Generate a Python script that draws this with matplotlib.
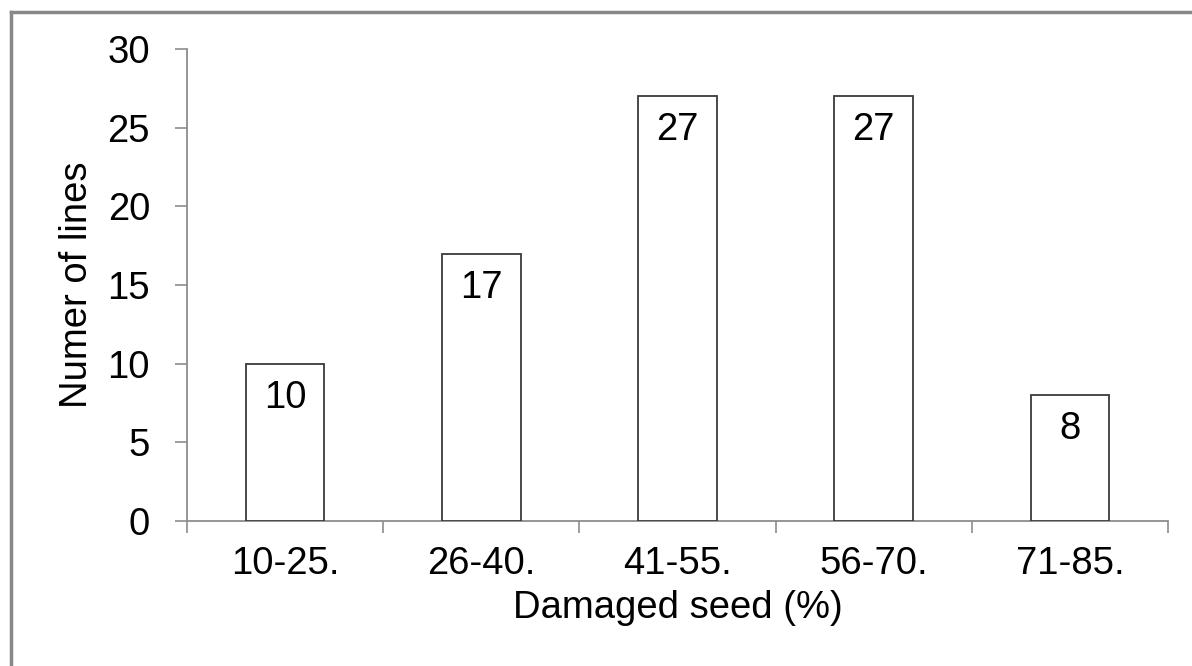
import matplotlib
matplotlib.use("Agg")
import matplotlib.pyplot as plt
from matplotlib.lines import Line2D
import numpy as np

categories = ["10-25.", "26-40.", "41-55.", "56-70.", "71-85."]
counts = [10, 17, 27, 27, 8]
y_ticks = [0, 5, 10, 15, 20, 25, 30]

plt.rcParams["font.family"] = ["Liberation Sans", "DejaVu Sans"]
FS = 27.5
AXIS_GRAY = "#8c8c8c"

fig = plt.figure(figsize=(11.92, 6.66), dpi=100)
ax = fig.add_axes([187 / 1192, 1 - 521 / 666, (1168 - 187) / 1192, (521 - 49) / 666])

x = np.arange(len(categories))
bars = ax.bar(x, counts, width=0.4, color="white", edgecolor="#3a3a3a", linewidth=1.3, zorder=3)

for xi, v in zip(x, counts):
    ax.annotate(str(v), (xi, v), xytext=(0, -24.5), textcoords="offset points",
                ha="center", va="center", fontsize=FS, color="black", zorder=4)

ax.set_xlim(-0.5, len(categories) - 0.5)
ax.set_ylim(0, 30)
ax.set_yticks(y_ticks)
ax.set_yticklabels([str(t) for t in y_ticks], fontsize=FS)

# category boundaries carry the tick marks, centres carry the labels
ax.set_xticks(np.arange(-0.5, len(categories), 1.0))
ax.set_xticklabels([])
ax.set_xticks(x, minor=True)
ax.set_xticklabels(categories, minor=True, fontsize=FS)
ax.tick_params(axis="x", which="major", direction="out", length=8.6, width=1.2, color=AXIS_GRAY)
ax.tick_params(axis="x", which="minor", length=0, pad=18)
ax.tick_params(axis="y", direction="out", length=8.6, width=1.2, color=AXIS_GRAY, pad=18)

for side in ("top", "right"):
    ax.spines[side].set_visible(False)
for side in ("left", "bottom"):
    ax.spines[side].set_color(AXIS_GRAY)
    ax.spines[side].set_linewidth(1.3)

ax.set_xlabel("Damaged seed (%)", fontsize=FS, labelpad=6)
ax.set_ylabel("Numer of lines", fontsize=FS, labelpad=9)

# outer frame of the chart area
fig.add_artist(Line2D([11 / 1192, 11 / 1192], [0, 1 - 12 / 666], transform=fig.transFigure,
                      color="#888888", linewidth=2.5))
fig.add_artist(Line2D([11 / 1192, 1], [1 - 12 / 666, 1 - 12 / 666], transform=fig.transFigure,
                      color="#888888", linewidth=2.5))

fig.savefig("out.png", dpi=100)
